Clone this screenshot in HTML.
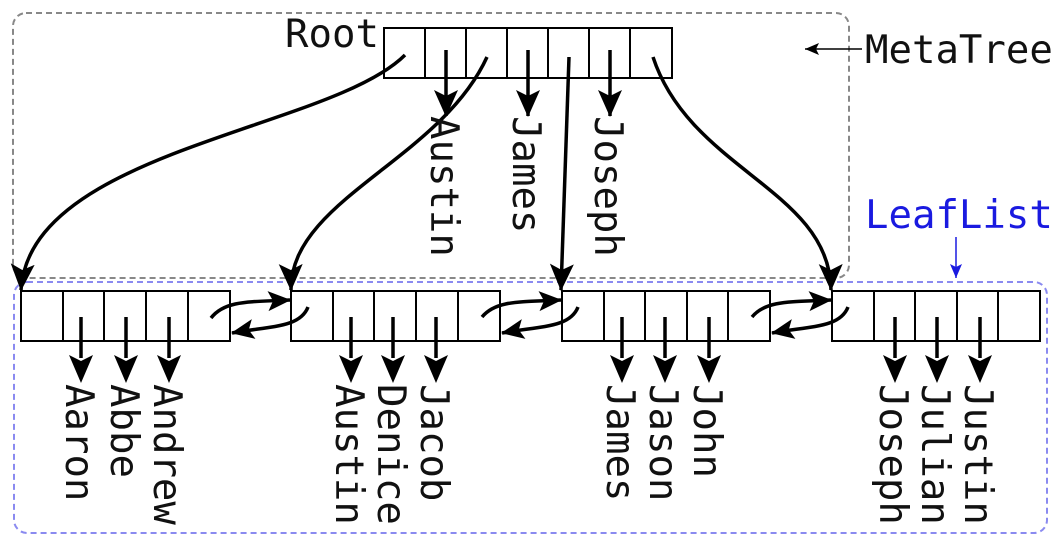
<!DOCTYPE html>
<html><head><meta charset="utf-8"><style>
html,body{margin:0;padding:0;background:#fff;}
svg{display:block;}
text{font-family:"DejaVu Sans Mono","Liberation Mono",monospace;font-size:39px;fill:#111;}
</style></head><body>
<svg width="1061" height="547" viewBox="0 0 1061 547" xmlns="http://www.w3.org/2000/svg">
<defs>
<marker id="ah" markerUnits="userSpaceOnUse" markerWidth="30" markerHeight="26" refX="26" refY="12" orient="auto">
<path d="M0,0 L27,12 L0,24 L6,12 Z" fill="#000"/>
</marker>
<marker id="al" markerUnits="userSpaceOnUse" markerWidth="26" markerHeight="22" refX="22" refY="10" orient="auto">
<path d="M0,0 L23,10 L0,20 L5,10 Z" fill="#000"/>
</marker>
<marker id="ahs" markerUnits="userSpaceOnUse" markerWidth="16" markerHeight="12" refX="14" refY="6" orient="auto">
<path d="M0,0 L14,6 L0,12 L3,6 Z" fill="#000"/>
</marker>
<marker id="ahb" markerUnits="userSpaceOnUse" markerWidth="16" markerHeight="12" refX="14" refY="6" orient="auto">
<path d="M0,0 L14,6 L0,12 L3,6 Z" fill="#1a1ae0"/>
</marker>
</defs>
<rect x="13" y="13" width="836" height="265" rx="13" fill="none" stroke="#888" stroke-width="2" stroke-dasharray="6,4"/>
<rect x="14" y="282" width="1033" height="251" rx="13" fill="none" stroke="#8a8af0" stroke-width="2" stroke-dasharray="6,4"/>

<g fill="none" stroke="#000" stroke-width="2">
<rect x="384" y="28" width="288" height="50" fill="#fff"/>
<path d="M425,28V78M466,28V78M507,28V78M548,28V78M589,28V78M630,28V78"/>
<rect x="21" y="291" width="209" height="50"/>
<path d="M63,291V341M104,291V341M146,291V341M188,291V341"/>
<rect x="291" y="291" width="209" height="50"/>
<path d="M333,291V341M374,291V341M416,291V341M458,291V341"/>
<rect x="562" y="291" width="208" height="50"/>
<path d="M604,291V341M645,291V341M687,291V341M728,291V341"/>
<rect x="832" y="291" width="208" height="50"/>
<path d="M874,291V341M915,291V341M957,291V341M998,291V341"/>
</g>

<g fill="none" stroke="#000" stroke-width="3.5">
<path d="M405,55 C330,130 30,150 21,290" marker-end="url(#ah)"/>
<path d="M487,57 C440,160 290,200 291,290" marker-end="url(#ah)"/>
<path d="M569,57 L561,290" marker-end="url(#ah)"/>
<path d="M653,57 C690,170 830,190 831,290" marker-end="url(#ah)"/>
<path d="M446,50 V116" marker-end="url(#ah)"/>
<path d="M528,50 V116" marker-end="url(#ah)"/>
<path d="M610,50 V116" marker-end="url(#ah)"/>
<path d="M81,317V358M126,317V358M169,317V358" />
<path d="M351,317V358M393,317V358M436,317V358"/>
<path d="M622,317V358M665,317V358M709,317V358"/>
<path d="M895,317V358M937,317V358M980,317V358"/>
<path d="M211,318 C225,300 250,302 290,300" marker-end="url(#al)"/>
<path d="M308,307 C300,328 270,326 232,333" marker-end="url(#al)"/>
<path d="M482,317 C496,300 521,302 561,300" marker-end="url(#al)"/>
<path d="M578,307 C570,328 540,326 502,333" marker-end="url(#al)"/>
<path d="M752,317 C766,300 791,302 831,300" marker-end="url(#al)"/>
<path d="M848,307 C840,328 810,326 772,333" marker-end="url(#al)"/>
</g>
<g fill="#000">
<path d="M69,355 L81,383 L93,355 L81,361Z M114,355 L126,383 L138,355 L126,361Z M157,355 L169,383 L181,355 L169,361Z"/>
<path d="M339,355 L351,383 L363,355 L351,361Z M381,355 L393,383 L405,355 L393,361Z M424,355 L436,383 L448,355 L436,361Z"/>
<path d="M610,355 L622,383 L634,355 L622,361Z M653,355 L665,383 L677,355 L665,361Z M697,355 L709,383 L721,355 L709,361Z"/>
<path d="M883,355 L895,383 L907,355 L895,361Z M925,355 L937,383 L949,355 L937,361Z M968,355 L980,383 L992,355 L980,361Z"/>
</g>

<text x="285" y="47">Root</text>
<text x="865" y="63">MetaTree</text>
<path d="M862,49 H805" stroke="#000" stroke-width="1.5" marker-end="url(#ahs)"/>
<text x="865" y="228" style="fill:#1a1ae0">LeafList</text>
<path d="M956,237 V278" stroke="#1a1ae0" stroke-width="1.5" marker-end="url(#ahb)"/>

<text transform="translate(431,116) rotate(90)">Austin</text>
<text transform="translate(513,116) rotate(90)">James</text>
<text transform="translate(595,116) rotate(90)">Joseph</text>

<text transform="translate(66,384) rotate(90)">Aaron</text>
<text transform="translate(111,384) rotate(90)">Abbe</text>
<text transform="translate(154,384) rotate(90)">Andrew</text>
<text transform="translate(336,384) rotate(90)">Austin</text>
<text transform="translate(378,384) rotate(90)">Denice</text>
<text transform="translate(421,384) rotate(90)">Jacob</text>
<text transform="translate(607,384) rotate(90)">James</text>
<text transform="translate(650,384) rotate(90)">Jason</text>
<text transform="translate(694,384) rotate(90)">John</text>
<text transform="translate(880,384) rotate(90)">Joseph</text>
<text transform="translate(922,384) rotate(90)">Julian</text>
<text transform="translate(965,384) rotate(90)">Justin</text>
</svg>
</body></html>
